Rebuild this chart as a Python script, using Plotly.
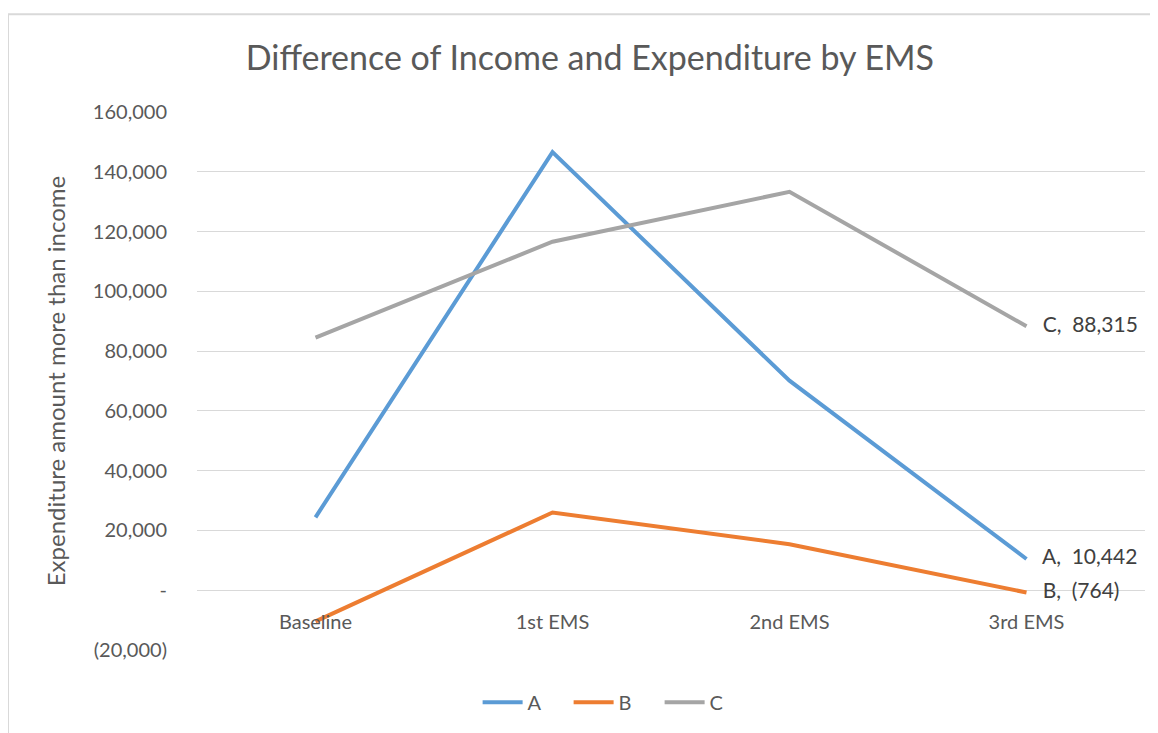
import plotly.graph_objects as go

# Data
categories = ["Baseline", "1st EMS", "2nd EMS", "3rd EMS"]
series_names = ["A", "B", "C"]
a_values = [24400, 146600, 70100, 10442]
b_values = [-10400, 26000, 15400, -764]
c_values = [84500, 116600, 133300, 88315]
colors = ["#5B9BD5", "#ED7D31", "#A5A5A5"]

y_ticks = list(range(-20000, 160001, 20000))


def acct(v):
    # Excel accounting style: negatives in brackets, zero as a dash
    if v == 0:
        return "-"
    if v < 0:
        return f"({abs(v):,})"
    return f"{v:,}"


y_ticktext = [acct(v) for v in y_ticks]

FONT = "Lato, 'Open Sans', sans-serif"
GREY_TEXT = "#595959"

# the page body has an 8px margin, so the figure is sized to fit the window
W, H = 1150, 725

fig = go.Figure()
for name, vals, col in zip(series_names, [a_values, b_values, c_values], colors):
    labels = [""] * (len(vals) - 1) + [f"   {name},  {acct(vals[-1])}"]
    fig.add_trace(go.Scatter(
        x=categories, y=vals, name=name, mode="lines+text",
        text=labels, textposition="middle right",
        textfont=dict(size=21, color="#404040", family=FONT),
        line=dict(color=col, width=4),
        cliponaxis=False,
    ))

fig.update_layout(
    width=W, height=H,
    paper_bgcolor="white", plot_bgcolor="white",
    margin=dict(l=189, r=13, t=104, b=82),
    font=dict(family=FONT, color=GREY_TEXT, size=20),
    title=dict(text="Difference of Income and Expenditure by EMS",
               x=0.506, xanchor="center", y=1 - 50 / H, yanchor="middle",
               font=dict(size=34, color=GREY_TEXT)),
    showlegend=True,
    legend=dict(orientation="h", x=0.44, xanchor="center", y=-0.095, yanchor="middle",
                font=dict(size=20, color=GREY_TEXT), itemwidth=40, entrywidth=36),
    xaxis=dict(
        range=[-0.5, 3.5],
        anchor="free", position=20000 / 180000,
        showline=False, showgrid=False, zeroline=False, ticks="",
        ticklabelstandoff=18,
        tickfont=dict(size=20, color=GREY_TEXT),
    ),
    yaxis=dict(
        range=[-20000, 160000], tickvals=y_ticks, ticktext=y_ticktext,
        showgrid=True, gridcolor="#D9D9D9", gridwidth=1,
        zeroline=False, showline=False, ticks="", ticklabelstandoff=29,
        tickfont=dict(size=20, color=GREY_TEXT),
        title=dict(text="Expenditure amount more than income", standoff=20,
                   font=dict(size=24, color=GREY_TEXT)),
    ),
    shapes=[dict(type="rect", xref="paper", yref="paper",
                 x0=-189 / 948, x1=(1170 - 197) / 948,
                 y0=(651 - 740) / 539, y1=(651 - 14) / 539,
                 line=dict(color="#D9D9D9", width=2), fillcolor="rgba(0,0,0,0)",
                 layer="below")],
)

fig.write_html("out.html")
